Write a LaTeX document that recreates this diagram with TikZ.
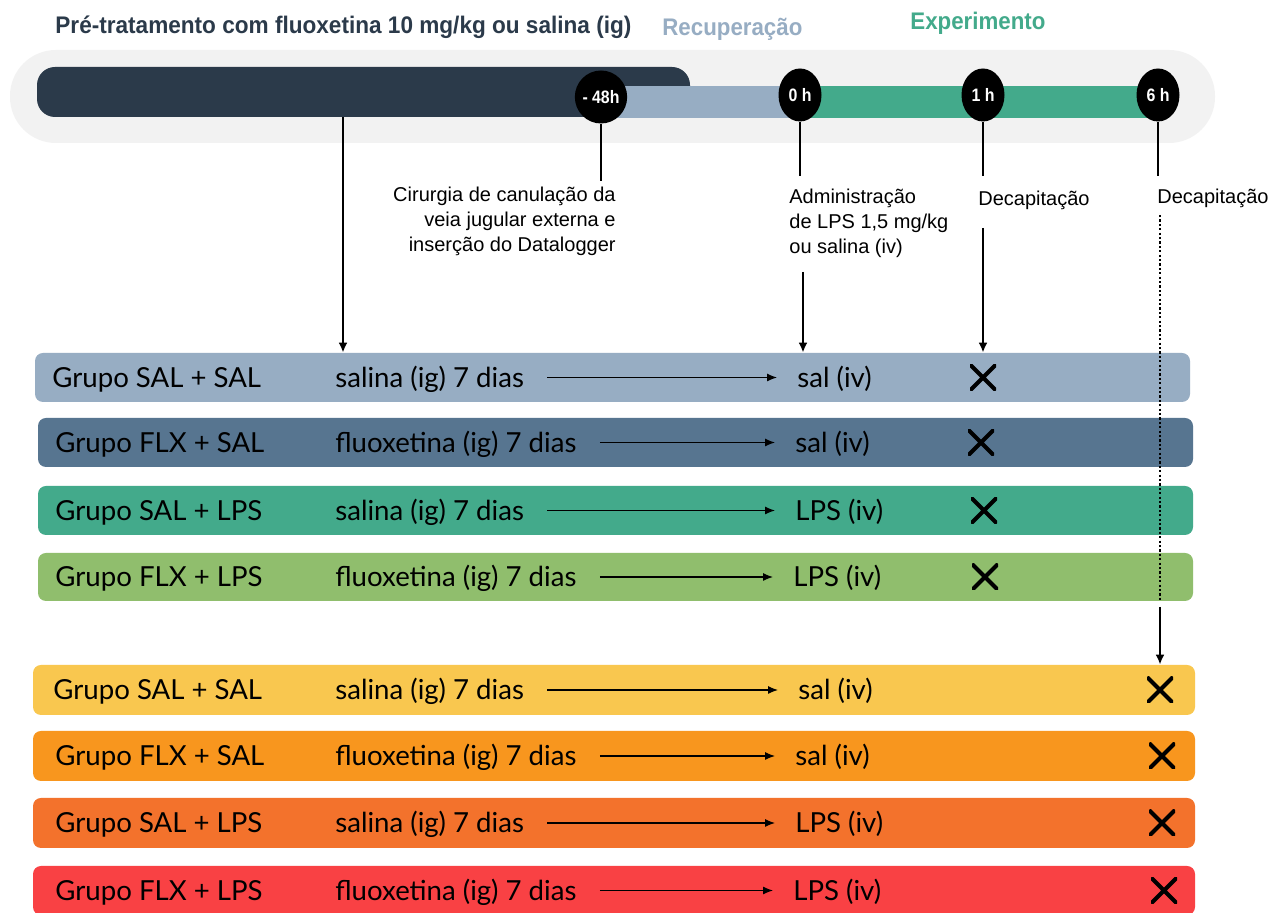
\documentclass[tikz,border=0pt]{standalone}
\usepackage{fontspec}
\usepackage{graphicx}
\setmainfont{Lato}
\newfontfamily\annfont{Liberation Sans}
\usetikzlibrary{arrows.meta,shapes.geometric}
\definecolor{navy}{HTML}{2B3A4A}
\definecolor{lblue}{HTML}{97ADC3}
\definecolor{sblue}{HTML}{577590}
\definecolor{teal}{HTML}{43AA8B}
\definecolor{lgreen}{HTML}{90BE6D}
\definecolor{yel}{HTML}{F9C74F}
\definecolor{ora}{HTML}{F8961E}
\definecolor{dora}{HTML}{F3722C}
\definecolor{rred}{HTML}{F94144}
\definecolor{bggray}{HTML}{F2F2F2}
\newcommand\fitw[2]{\resizebox{#1}{\height}{#2}}
\tikzset{
 barbox/.style={rounded corners=4pt, draw=none, inner sep=0pt, minimum height=24.5pt},
 grp/.style={anchor=base west, inner sep=0pt, font=\fontsize{13.8}{16}\selectfont},
 ann/.style={inner sep=0pt, font=\annfont\fontsize{10}{12.5}\selectfont},
 head/.style={anchor=base west, inner sep=0pt, font=\annfont\bfseries\fontsize{12}{14}\selectfont},
 tp/.style={ellipse, fill=black, inner sep=0pt, minimum width=21.5pt, minimum height=26.5pt, text=white, font=\annfont\bfseries\fontsize{9}{10}\selectfont},
 tick/.style={line width=1pt},
 arr/.style={line width=1pt, -{Latex[length=5pt,width=4.5pt]}},
 inarr/.style={line width=0.6pt, -{Latex[length=5pt,width=4pt]}},
 dots/.style={line width=1.1pt, dash pattern=on 1.1pt off 1.1pt},
 xm/.style={minimum size=13pt, inner sep=0pt, path picture={\draw[line width=2pt] (path picture bounding box.south west) -- (path picture bounding box.north east) (path picture bounding box.north west) -- (path picture bounding box.south east);}}
}
\begin{document}
\begin{tikzpicture}[x=0.5pt,y=-0.5pt]
\useasboundingbox (0,0) rectangle (1287,913);
\clip (0,0) rectangle (1287,913);
\fill[white] (0,0) rectangle (1287,913);
% headers
\node[head, text=navy] (h1) at (55,34) {\fitw{288pt}{Pré-tratamento com fluoxetina 10 mg/kg ou salina (ig)}};
\node[head, text=lblue] (h2) at (662,36) {\fitw{70pt}{Recuperação}};
\node[head, text=teal] (h3) at (910,30) {\fitw{67.5pt}{Experimento}};
% timeline
\node[fill=bggray, rounded corners=23pt, minimum width=602.5pt, minimum height=46.5pt, inner sep=0pt] (bg) at (612.5,96.5) {};
\node[fill=navy, rounded corners=9pt, minimum width=326.5pt, minimum height=25pt, inner sep=0pt] (pre) at (363.5,92) {};
\node[fill=lblue, minimum width=100pt, minimum height=16pt, inner sep=0pt] (rec) at (700,102) {};
\node[fill=teal, minimum width=180pt, minimum height=16pt, inner sep=0pt] (exp) at (980,102) {};
\node[tp] (m48) at (601,97) {\fitw{18.5pt}{- 48h}};
\node[tp] (t0) at (800,95) {\fitw{11.5pt}{0 h}};
\node[tp] (t1) at (983,95) {\fitw{11.5pt}{1 h}};
\node[tp] (t6) at (1158,95) {\fitw{11.5pt}{6 h}};
% annotations
\node[ann, anchor=north east, align=right] (cir) at (616,187) {Cirurgia de canulação da\\veia jugular externa e\\inserção do Datalogger};
\node[ann, anchor=north west, align=left] (adm) at (789,189) {Administração\\de LPS 1,5 mg/kg\\ou salina (iv)};
\node[ann, anchor=base west] (dec1) at (978,206) {Decapitação};
\node[ann, anchor=base west] (dec2) at (1157,204) {Decapitação};
% rows
\foreach \i/\ya/\yb/\xa/\xb/\c/\gx/\g/\m/\r/\rx/\xx in {
 1/353/402/35/1190/lblue/52/SAL + SAL/salina/sal/797/983,
 2/418/467/38/1193/sblue/55/FLX + SAL/fluoxetina/sal/795/981,
 3/486/535/38/1193/teal/55/SAL + LPS/salina/LPS/795/984,
 4/553/601/38/1193/lgreen/55/FLX + LPS/fluoxetina/LPS/793/985,
 5/665/715/33/1195/yel/53/SAL + SAL/salina/sal/798/1160,
 6/731/781/33/1195/ora/55/FLX + SAL/fluoxetina/sal/795/1162,
 7/798/848/33/1195/dora/55/SAL + LPS/salina/LPS/795/1162,
 8/866/915/33/1195/rred/55/FLX + LPS/fluoxetina/LPS/793/1164}{
 \node[barbox, fill=\c, minimum width={0.5pt*(\xb-\xa)}, minimum height={0.5pt*(\yb-\ya)}] (b\i) at ({(\xa+\xb)/2},{(\ya+\yb)/2}) {};
 \node[grp] (g\i) at (\gx,{(\ya+\yb)/2+10}) {Grupo \g};
 \node[grp] (m\i) at (335,{(\ya+\yb)/2+10}) {\m\ (ig) 7 dias};
 \node[grp] (r\i) at (\rx,{(\ya+\yb)/2+10}) {\r\ (iv)};
 \node[xm] (x\i) at (\xx,{(\ya+\yb)/2}) {};
 \coordinate (s\i) at ([xshift=11.5pt,yshift=5pt]m\i.base east);
 \coordinate (u\i) at ([xshift=-10pt]r\i.base west);
 \draw[inarr] (s\i) -- (s\i -| u\i);
}
% connectors
\coordinate (preA) at (343,117);
\draw[arr] (preA) -- (preA |- b1.north);
\coordinate (e48) at (601,181);
\draw[tick] (m48.south) -- (e48);
\coordinate (e0) at (800,176);
\draw[tick] (t0.south) -- (e0);
\coordinate (e1) at (983,176);
\draw[tick] (t1.south) -- (e1);
\coordinate (e6) at (1158,176);
\draw[tick] (t6.south) -- (e6);
\coordinate (admA) at (803,272);
\draw[arr] (admA) -- (admA |- b1.north);
\coordinate (decA) at (983,228);
\draw[arr] (decA) -- (decA |- b1.north);
\coordinate (dotA) at (1160,215);
\coordinate (dotB) at (1160,601);
\coordinate (dotC) at (1160,607);
\draw[dots] (dotA) -- (dotB);
\draw[arr] (dotC) -- (dotC |- b5.north);
\end{tikzpicture}
\end{document}
